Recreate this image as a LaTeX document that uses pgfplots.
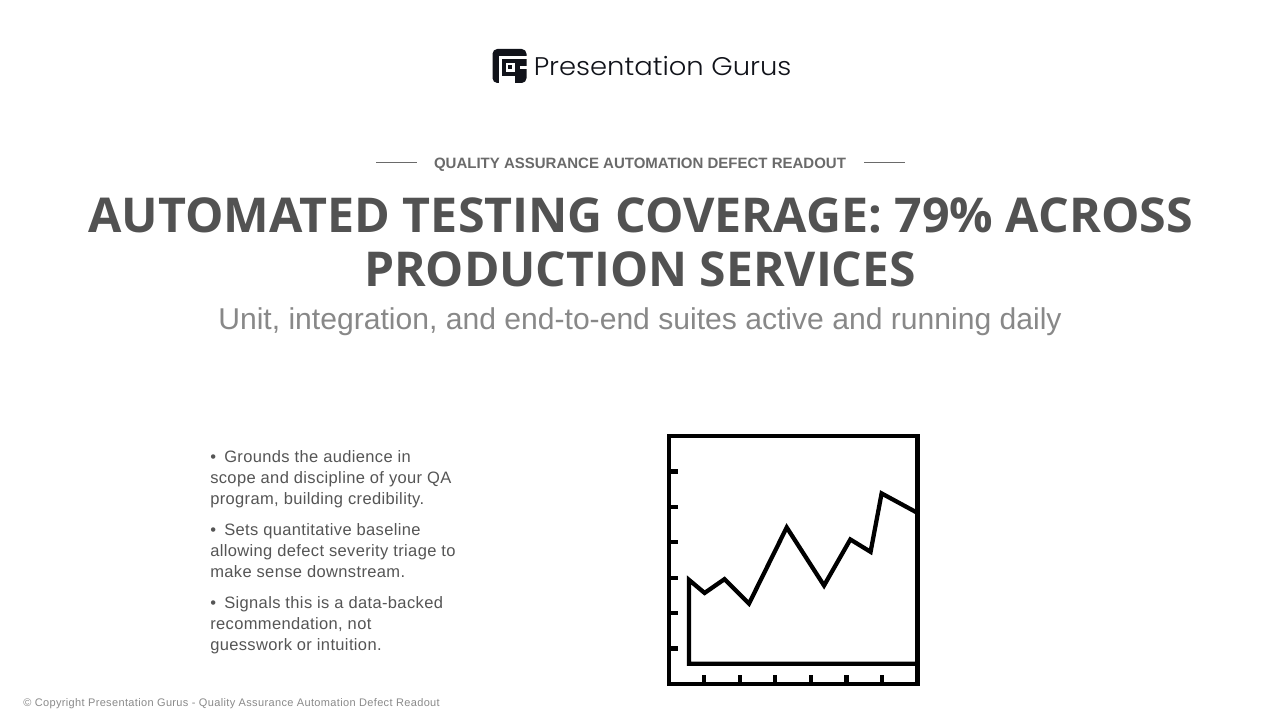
\documentclass[border=0pt]{standalone}
\usepackage{pgfplots}
\pgfplotsset{compat=1.18}
\usepackage{fontspec}
\setmainfont{Liberation Sans}
\newfontfamily\titlefont{Open Sans}
\newfontfamily\logofont{Poppins Light}
\newfontfamily\bodyfont[LetterSpace=2.2]{Liberation Sans}
\newfontfamily\footfont[LetterSpace=3.2]{Liberation Sans}
\definecolor{titlec}{HTML}{525252}
\definecolor{eyec}{HTML}{6A6A6A}
\definecolor{subc}{HTML}{888888}
\definecolor{bodyc}{HTML}{555555}
\definecolor{footc}{HTML}{8A8A8A}
\definecolor{logoc}{HTML}{11131A}
\newcommand{\px}[1]{\fontsize{\fpeval{#1*0.75}pt}{\fpeval{#1*0.9}pt}\selectfont}
\newcommand{\bul}{\makebox[10.5pt][l]{•}}
\begin{document}
\begin{tikzpicture}[x=0.75pt,y=-0.75pt]
\path[use as bounding box,fill=white] (0,0) rectangle (1280,720);
% logo
\fill[logoc,rounded corners=3.6pt] (492.5,49) rectangle (526.5,83);
\fill[white] (499,56) rectangle (526.5,59);
\fill[white] (499,56) rectangle (502,83);
\fill[white] (505.5,63) rectangle (515,72);
\fill[logoc] (507.5,65) rectangle (512,69.5);
\fill[white] (502,76) rectangle (515,83);
\fill[white] (519.5,66) rectangle (526.5,69);
\node[anchor=base west,inner sep=0,text=logoc] at (533.5,75.5) {\scalebox{1.075}[1]{\logofont\px{25.5}Presentation Gurus}};
% eyebrow
\draw[eyec,line width=0.75pt] (376,162.5) -- (417,162.5);
\draw[eyec,line width=0.75pt] (864,162.5) -- (905,162.5);
\node[anchor=base,inner sep=0,text=eyec] at (640,168.5) {\bfseries\px{15}QUALITY ASSURANCE AUTOMATION DEFECT READOUT};
% title
\node[anchor=base,inner sep=0,text=titlec] at (640.7,233) {\scalebox{1.0073}[1]{\titlefont\bfseries\px{48}AUTOMATED TESTING COVERAGE: 79\% ACROSS}};
\node[anchor=base,inner sep=0,text=titlec] at (640,286) {\titlefont\bfseries\px{48}PRODUCTION SERVICES};
\node[anchor=base,inner sep=0,text=subc] at (640,329.5) {\px{30.1}Unit, integration, and end-to-end suites active and running daily};
% bullets
\foreach \y/\t in {462/{\bul Grounds the audience in},483/{scope and discipline of your QA},504/{program, building credibility.},535/{\bul Sets quantitative baseline},556/{allowing defect severity triage to},577/{make sense downstream.},608/{\bul Signals this is a data-backed},629/{recommendation, not},650/{guesswork or intuition.}}
  \node[anchor=base west,inner sep=0,text=bodyc] at (210,\y) {\bodyfont\px{16.5}\t};
\node[anchor=base west,inner sep=0,text=footc] at (23,706) {\footfont\px{11}© Copyright Presentation Gurus - Quality Assurance Automation Defect Readout};
% chart
\begin{axis}[
  at={(501.525pt,-513pt)},anchor=south west,
  scale only axis,width=186.6pt,height=186pt,
  xmin=0,xmax=7,ymin=0,ymax=7,
  axis line style={line width=3.2pt,black},
  xtick={1,2,3,4,5,6},ytick={1,2,3,4,5,6},
  xticklabels={},yticklabels={},
  tick align=inside,tick pos=left,
  major tick length=6.75pt,
  every tick/.style={line width=3.2pt,black},
  clip=true]
\addplot[black,line width=3.2pt,line join=miter,miter limit=10] coordinates {
 (7,0.57) (0.57,0.57) (0.57,2.94) (1.01,2.57) (1.57,2.96) (2.26,2.27)
 (3.32,4.42) (4.37,2.78) (5.11,4.08) (5.68,3.73) (5.99,5.38) (7,4.83)};
\end{axis}
\end{tikzpicture}
\end{document}
